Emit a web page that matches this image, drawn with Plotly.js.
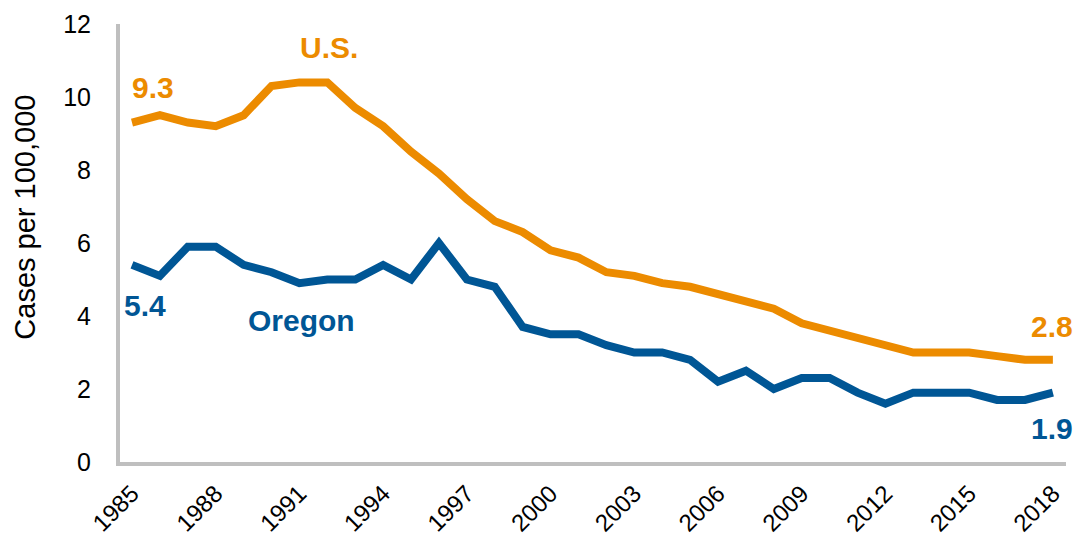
<!DOCTYPE html>
<html>
<head>
<meta charset="utf-8">
<script src="https://cdn.plot.ly/plotly-3.0.1.min.js"></script>
<style>html,body{margin:0;padding:0;background:#fff;}#chart{width:1078px;height:542px;}</style>
</head>
<body>
<div id="chart"></div>
<script>
const years = [1985,1986,1987,1988,1989,1990,1991,1992,1993,1994,1995,1996,1997,1998,1999,2000,2001,2002,2003,2004,2005,2006,2007,2008,2009,2010,2011,2012,2013,2014,2015,2016,2017,2018];
const usRates = [9.3,9.5,9.3,9.2,9.5,10.3,10.4,10.4,9.7,9.2,8.5,7.9,7.2,6.6,6.3,5.8,5.6,5.2,5.1,4.9,4.8,4.6,4.4,4.2,3.8,3.6,3.4,3.2,3.0,3.0,3.0,2.9,2.8,2.8];
const oregonRates = [5.4,5.1,5.9,5.9,5.4,5.2,4.9,5.0,5.0,5.4,5.0,6.0,5.0,4.8,3.7,3.5,3.5,3.2,3.0,3.0,2.8,2.2,2.5,2.0,2.3,2.3,1.9,1.6,1.9,1.9,1.9,1.7,1.7,1.9];
const tickYears = [1985,1988,1991,1994,1997,2000,2003,2006,2009,2012,2015,2018];
const yTicks = [0,2,4,6,8,10,12];

const orange = '#EC8B00';
const blue = '#005695';
const fam = 'Liberation Sans, Arial, sans-serif';

const traces = [
  {x: years, y: usRates, type: 'scatter', mode: 'lines', name: 'U.S.',
   line: {color: orange, width: 8}},
  {x: years, y: oregonRates, type: 'scatter', mode: 'lines', name: 'Oregon',
   line: {color: blue, width: 8}}
];

const n = years.length - 1;
const annFont = (c) => ({family: fam, size: 30, color: c});
const annotations = [
  {x: 1985.75, y: 10.27, text: '<b>' + usRates[0].toFixed(1) + '</b>', showarrow: false, xanchor: 'center', yanchor: 'middle', font: annFont(orange)},
  {x: 1992.06, y: 11.37, text: '<b>U.S.</b>', showarrow: false, xanchor: 'center', yanchor: 'middle', font: annFont(orange)},
  {x: 1985.47, y: 4.30, text: '<b>' + oregonRates[0].toFixed(1) + '</b>', showarrow: false, xanchor: 'center', yanchor: 'middle', font: annFont(blue)},
  {x: 1991.06, y: 3.89, text: '<b>Oregon</b>', showarrow: false, xanchor: 'center', yanchor: 'middle', font: annFont(blue)},
  {x: 2017.97, y: 3.70, text: '<b>' + usRates[n].toFixed(1) + '</b>', showarrow: false, xanchor: 'center', yanchor: 'middle', font: annFont(orange)},
  {x: 2017.97, y: 0.93, text: '<b>' + oregonRates[n].toFixed(1) + '</b>', showarrow: false, xanchor: 'center', yanchor: 'middle', font: annFont(blue)},
  {xref: 'paper', yref: 'paper', x: -0.1005, y: 0.56, text: 'Cases per 100,000', textangle: -90, showarrow: false,
   xanchor: 'center', yanchor: 'middle', font: {family: fam, size: 29, color: '#000'}}
];

const layout = {
  width: 1078, height: 542,
  margin: {l: 120, r: 12, t: 24, b: 80},
  paper_bgcolor: '#fff', plot_bgcolor: '#fff',
  showlegend: false,
  font: {family: fam, color: '#000'},
  xaxis: {
    range: [1984.57, 2018.47],
    tickvals: tickYears, ticktext: tickYears.map(String),
    tickangle: -45, tickfont: {size: 24, color: '#000'},
    showgrid: false, zeroline: false,
    showline: true, linecolor: '#BFBFBF', linewidth: 4,
    ticks: '', ticklabelstandoff: 4
  },
  yaxis: {
    range: [0, 12],
    tickvals: yTicks, ticktext: yTicks.map(String),
    tickfont: {size: 25, color: '#000'},
    showgrid: false, zeroline: false,
    showline: true, linecolor: '#BFBFBF', linewidth: 4,
    ticks: '', ticklabelstandoff: 20
  },
  annotations: annotations
};

Plotly.newPlot('chart', traces, layout, {displayModeBar: false, staticPlot: true});
</script>
</body>
</html>
